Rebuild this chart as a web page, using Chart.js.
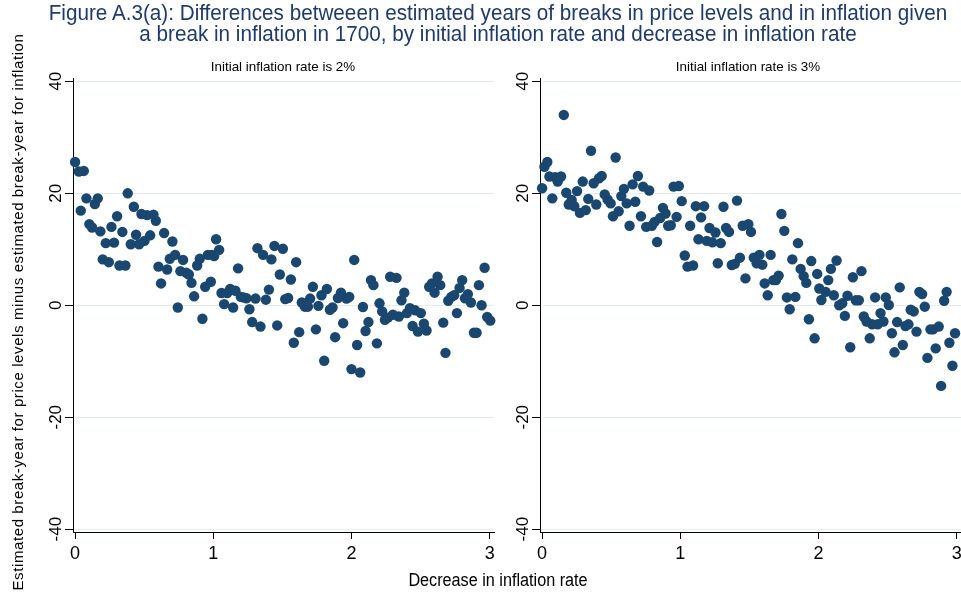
<!DOCTYPE html>
<html>
<head>
<meta charset="utf-8">
<script src="https://cdn.jsdelivr.net/npm/chart.js@4.4.0/dist/chart.umd.min.js"></script>
<style>
  html, body { margin: 0; padding: 0; background: #fff; }
  body { width: 961px; height: 596px; position: relative; overflow: hidden; }
  canvas { position: absolute; top: 0; }
  #leftPanel { left: 0; }
  #rightPanel { left: 467px; }
  .txt { position: absolute; white-space: nowrap; text-align: center; color: #000; }
  #title { left: 0; width: 996px; top: 3px; font: 21.5px 'Liberation Sans', Arial, sans-serif; line-height: 21px; color: #1f3b6b; transform: scaleX(0.962); transform-origin: 498px 0; }
  .sub { top: 59px; width: 300px; font: 13.4px 'Liberation Sans', Arial, sans-serif; line-height: 16px; }
  #ytitle { left: -282px; top: 302px; width: 600px; font: 15px 'Liberation Sans', Arial, sans-serif; letter-spacing: 0.6px; line-height: 20px; transform: rotate(-90deg); transform-origin: 50% 50%; }
  #xtitle { left: 298px; top: 569px; width: 400px; font: 18px 'Liberation Sans', Arial, sans-serif; line-height: 22px; transform: scaleX(0.9); transform-origin: 200px 0; }
</style>
</head>
<body>
<canvas id="leftPanel" width="500" height="596"></canvas>
<canvas id="rightPanel" width="503" height="596"></canvas>
<div id="title" class="txt">Figure A.3(a): Differences betweeen estimated years of breaks in price levels and in inflation given<br>a break in inflation in 1700, by initial inflation rate and decrease in inflation rate</div>
<div class="txt sub" style="left:133px">Initial inflation rate is 2%</div>
<div class="txt sub" style="left:598px">Initial inflation rate is 3%</div>
<div id="ytitle" class="txt">Estimated break-year for price levels minus estimated break-year for inflation</div>
<div id="xtitle" class="txt">Decrease in inflation rate</div>
<script>
// initial inflation rate 2%
const decrease2 = [
  0.00, 0.027, 0.041, 0.063, 0.082, 0.103, 0.123, 0.143, 0.164, 0.183,
  0.200, 0.222, 0.244, 0.263, 0.282, 0.304, 0.321, 0.342, 0.364, 0.381,
  0.403, 0.425, 0.441, 0.463, 0.480, 0.502, 0.521, 0.543, 0.567, 0.584,
  0.603, 0.622, 0.644, 0.666, 0.685, 0.704, 0.724, 0.743, 0.762, 0.781,
  0.805, 0.823, 0.842, 0.861, 0.883, 0.902, 0.921, 0.941, 0.960, 0.982,
  0.990, 1.006, 1.020, 1.042, 1.059, 1.078, 1.100, 1.122, 1.143, 1.160,
  1.179, 1.199, 1.218, 1.240, 1.261, 1.281, 1.305, 1.319, 1.341, 1.360,
  1.380, 1.402, 1.420, 1.442, 1.462, 1.481, 1.503, 1.520, 1.541, 1.561,
  1.582, 1.599, 1.621, 1.640, 1.662, 1.684, 1.700, 1.720, 1.742, 1.760,
  1.782, 1.802, 1.821, 1.843, 1.862, 1.881, 1.901, 1.923, 1.939, 1.963,
  1.983, 1.999, 2.019, 2.040, 2.062, 2.082, 2.101, 2.122, 2.140, 2.158,
  2.183, 2.202, 2.221, 2.241, 2.263, 2.279, 2.299, 2.325, 2.342, 2.361,
  2.381, 2.400, 2.422, 2.441, 2.460, 2.480, 2.501, 2.523, 2.542, 2.561,
  2.581, 2.600, 2.622, 2.641, 2.663, 2.679, 2.699, 2.721, 2.742, 2.762,
  2.781, 2.800, 2.820, 2.841, 2.863, 2.885, 2.904, 2.921, 2.940, 2.962,
  2.981, 3.003
];
const gap2 = [
  25.6, 23.9, 16.9, 24.0, 19.1, 14.5, 13.9, 18.1, 19.1, 13.2,
  8.2, 11.1, 7.7, 14.0, 11.2, 15.9, 7.1, 13.1, 7.1, 20.0,
  10.9, 17.6, 12.6, 10.9, 16.3, 11.5, 16.1, 12.5, 16.2, 15.1,
  6.9, 3.9, 12.9, 6.4, 8.3, 11.4, 9.0, -0.4, 6.1, 8.1,
  5.8, 5.5, 4.0, 1.6, 7.1, 8.3, -2.4, 3.3, 9.0, 4.2,
  9.0, 8.8, 11.8, 9.9, 2.2, 0.2, 2.2, 2.9, -0.4, 2.6,
  6.6, 1.5, 1.4, 1.25, -0.7, -3.0, 1.2, 10.2, -3.8, 9.0,
  1.0, 2.8, 8.2, 10.6, -3.6, 5.5, 10.1, 1.1, 1.3, 4.6,
  -6.7, 7.7, -4.8, 0.5, -0.25, -0.25, 1.2, 3.3, -4.3, -0.1,
  1.8, -9.9, 2.9, -0.8, -0.4, -5.7, 1.3, 2.25, -3.2, 1.2,
  1.5, -11.4, 8.1, -7.1, -12.0, -0.3, -4.6, -3.0, 4.5, 3.6,
  -6.8, 0.35, -1.1, -2.6, -2.2, 5.1, -1.7, 4.9, -2.0, 0.9,
  2.25, -1.4, -0.5, -3.7, -0.9, -4.7, -1.4, -3.3, -4.5, 3.3,
  3.9, 2.25, 5.1, 3.6, -3.1, -8.5, 0.8, 1.5, 1.8, -1.4,
  3.1, 4.5, 1.25, 2.0, 0.5, -4.9, -4.9, 3.6, 0.0, 6.7,
  -2.1, -2.75
];

// initial inflation rate 3%
const decrease3 = [
  0.000, 0.017, 0.038, 0.053, 0.074, 0.094, 0.113, 0.137, 0.157, 0.175,
  0.193, 0.214, 0.233, 0.253, 0.274, 0.294, 0.316, 0.334, 0.354, 0.373,
  0.392, 0.412, 0.431, 0.453, 0.474, 0.496, 0.513, 0.532, 0.554, 0.573,
  0.592, 0.612, 0.633, 0.655, 0.674, 0.693, 0.715, 0.731, 0.753, 0.775,
  0.794, 0.814, 0.832, 0.854, 0.874, 0.893, 0.912, 0.931, 0.951, 0.973,
  0.989, 1.010, 1.032, 1.052, 1.071, 1.092, 1.112, 1.131, 1.150, 1.172,
  1.191, 1.211, 1.232, 1.254, 1.271, 1.292, 1.312, 1.331, 1.352, 1.372,
  1.394, 1.410, 1.431, 1.451, 1.471, 1.492, 1.511, 1.531, 1.552, 1.572,
  1.593, 1.610, 1.632, 1.653, 1.673, 1.692, 1.711, 1.731, 1.752, 1.771,
  1.791, 1.810, 1.832, 1.851, 1.870, 1.892, 1.911, 1.930, 1.947, 1.971,
  1.990, 2.005, 2.020, 2.051, 2.070, 2.089, 2.110, 2.130, 2.149, 2.171,
  2.190, 2.209, 2.229, 2.248, 2.269, 2.291, 2.310, 2.327, 2.347, 2.370,
  2.387, 2.409, 2.428, 2.448, 2.469, 2.486, 2.508, 2.530, 2.549, 2.568,
  2.587, 2.609, 2.628, 2.650, 2.666, 2.688, 2.708, 2.729, 2.749, 2.768,
  2.787, 2.809, 2.828, 2.847, 2.869, 2.886, 2.908, 2.926, 2.946, 2.968,
  2.987
];
const gap3 = [
  20.9, 24.75, 25.6, 23.0, 19.1, 22.9, 22.1, 23.0, 34.0, 20.1,
  18.0, 18.8, 17.7, 20.4, 16.5, 22.1, 17.0, 19.0, 27.6, 21.8,
  18.0, 22.7, 23.1, 19.8, 18.9, 18.2, 15.9, 26.4, 16.8, 19.5,
  20.8, 18.2, 14.2, 21.6, 18.5, 23.1, 15.9, 21.2, 14.0, 20.5,
  14.2, 14.9, 11.3, 15.6, 17.4, 16.4, 14.2, 14.3, 21.2, 15.8,
  21.3, 18.6, 8.9, 6.9, 14.2, 7.1, 17.7, 11.8, 15.7, 17.7,
  11.5, 13.8, 11.25, 13.0, 7.5, 11.1, 17.6, 13.8, 13.1, 7.2,
  7.4, 18.7, 8.5, 14.2, 4.8, 14.5, 13.1, 8.5, 7.5, 9.0,
  7.25, 3.9, 1.8, 9.0, 4.5, 4.5, 5.3, 16.3, 13.3, 1.4,
  -0.7, 8.2, 1.5, 11.1, 6.5, 5.2, 4.0, -2.5, 7.9, -5.9,
  5.6, 3.0, 0.95, 2.4, 4.5, 6.5, 1.8, 8.0, 0.0, 0.35,
  -1.9, 1.7, -7.5, 5.0, 0.9, 0.9, 6.1, -2.0, -2.9, -5.9,
  -3.4, 1.4, -3.4, -1.4, -2.9, 1.4, 0.05, -5.0, -8.4, -3.0,
  3.2, -7.1, -3.7, -3.4, -0.8, -1.1, -4.7, 2.4, 2.0, -0.25,
  -9.4, -4.3, -4.3, -7.7, -3.8, -14.4, 0.8, 2.4, -6.7, -10.8,
  -5.0
];

const xTicks = [0, 1, 2, 3];
const yTicks = [-40, -20, 0, 20, 40];

const MARKER = '#1a476f';
const GRID = '#e4ecf0';

function makePanel(id, xs, ys, padRight) {
  const points = xs.map((x, i) => ({ x, y: ys[i] }));
  return new Chart(document.getElementById(id), {
    type: 'scatter',
    data: {
      datasets: [{
        data: points,
        backgroundColor: MARKER,
        borderWidth: 0,
        pointRadius: 5.2,
        pointHoverRadius: 5.2,
        clip: false
      }]
    },
    options: {
      responsive: false,
      animation: false,
      events: [],
      layout: { padding: { left: 0, top: 78, right: padRight, bottom: 0 } },
      plugins: { legend: { display: false }, tooltip: { enabled: false } },
      scales: {
        x: {
          type: 'linear',
          min: -0.015,
          max: 3.03,
          afterBuildTicks: s => { s.ticks = xTicks.map(v => ({ value: v })); },
          afterFit: s => { s.height = 64; },
          grid: { drawOnChartArea: false, tickLength: 7, tickColor: '#000' },
          border: { color: '#000', width: 1 },
          ticks: {
            padding: 4,
            color: '#000',
            font: { family: "'Liberation Sans', Arial, sans-serif", size: 18 }
          }
        },
        y: {
          type: 'linear',
          min: -40.5,
          max: 40.6,
          afterBuildTicks: s => { s.ticks = yTicks.map(v => ({ value: v })); },
          afterFit: s => { s.width = 73; },
          grid: { color: GRID, lineWidth: 1, tickLength: 8, tickColor: '#000' },
          border: { color: '#000', width: 1 },
          ticks: {
            minRotation: 90,
            maxRotation: 90,
            crossAlign: 'center',
            padding: -4,
            color: '#000',
            font: { family: "'Liberation Sans', Arial, sans-serif", size: 17 }
          }
        }
      }
    }
  });
}

makePanel('leftPanel', decrease2, gap2, 6);
makePanel('rightPanel', decrease3, gap3, 9);
</script>
</body>
</html>
